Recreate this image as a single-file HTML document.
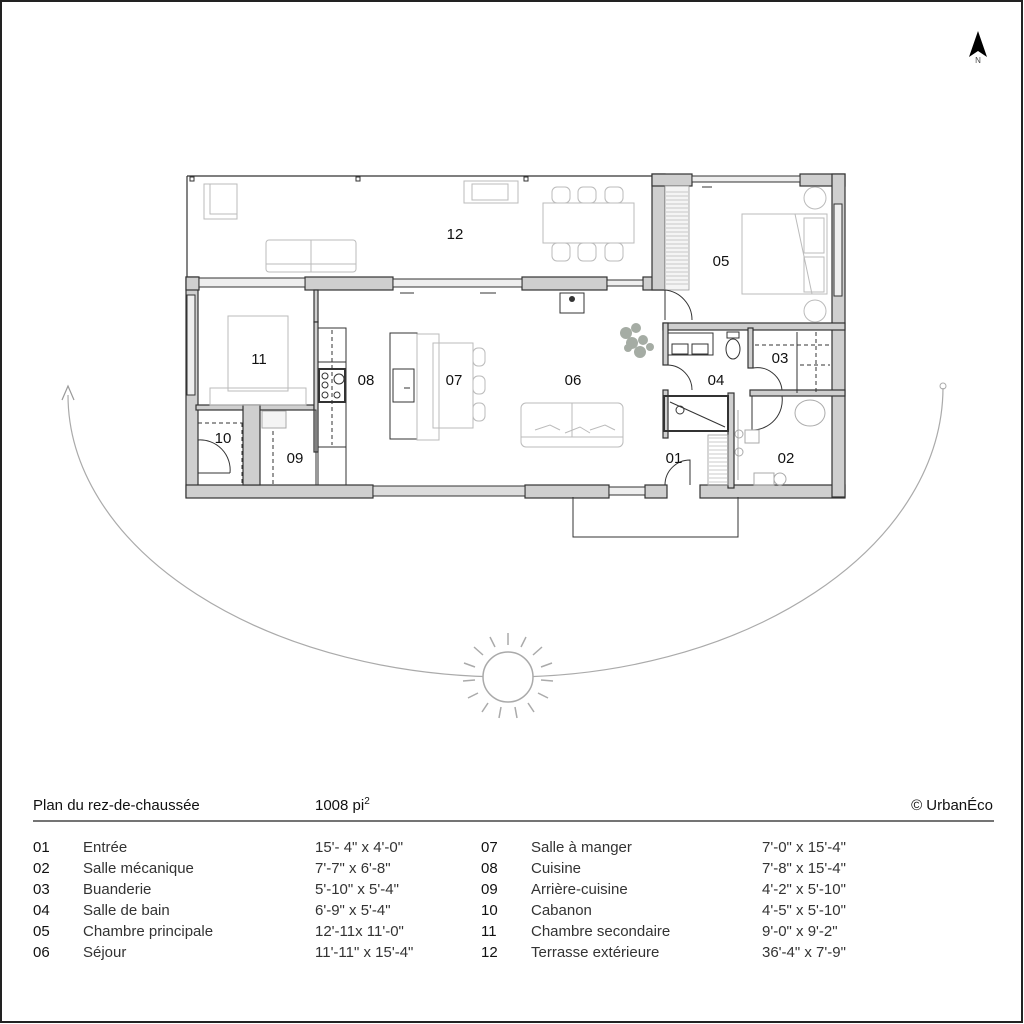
<!DOCTYPE html>
<html><head><meta charset="utf-8"><style>
html,body{margin:0;padding:0;background:#fff}
svg{display:block}
text{font-family:"Liberation Sans",sans-serif}
</style></head><body>
<svg width="1024" height="1024" viewBox="0 0 1024 1024" xmlns="http://www.w3.org/2000/svg">
<rect x="1" y="1" width="1021" height="1021" fill="#fff" stroke="#222" stroke-width="2"/>

<!-- compass -->
<path d="M978,31 L969,57 L978,51 L987,57 Z" fill="#000"/>
<text x="978" y="63" font-size="8" text-anchor="middle" fill="#444">N</text>

<!-- sun path -->
<path d="M68,395 A440 282 0 0 0 508,677 A435 290 0 0 0 943,388" fill="none" stroke="#aaa" stroke-width="1.2"/>
<path d="M62,400 L68,386 L74,400" fill="none" stroke="#999" stroke-width="1.2"/>
<circle cx="943" cy="386" r="3" fill="none" stroke="#aaa"/>
<g stroke="#aaa" stroke-width="1.5" fill="none">
<circle cx="508" cy="677" r="25" fill="#fff"/>
<line x1="508" y1="633" x2="508" y2="645"/><line x1="490" y1="637" x2="495" y2="647"/><line x1="526" y1="637" x2="521" y2="647"/>
<line x1="474" y1="647" x2="483" y2="655"/><line x1="542" y1="647" x2="533" y2="655"/>
<line x1="464" y1="663" x2="475" y2="667"/><line x1="552" y1="663" x2="541" y2="667"/>
<line x1="463" y1="681" x2="475" y2="680"/><line x1="553" y1="681" x2="541" y2="680"/>
<line x1="468" y1="698" x2="478" y2="693"/><line x1="548" y1="698" x2="538" y2="693"/>
<line x1="482" y1="712" x2="488" y2="703"/><line x1="534" y1="712" x2="528" y2="703"/>
<line x1="499" y1="718" x2="501" y2="707"/><line x1="517" y1="718" x2="515" y2="707"/>
</g>

<!-- terrace -->
<g fill="none" stroke="#333" stroke-width="1.2">
<line x1="187" y1="176" x2="652" y2="176"/>
<line x1="187" y1="176" x2="187" y2="277"/>
</g>
<g fill="#fff" stroke="#333" stroke-width="1">
<rect x="190" y="177" width="4" height="4"/><rect x="356" y="177" width="4" height="4"/><rect x="524" y="177" width="4" height="4"/>
</g>
<g fill="none" stroke="#bbb" stroke-width="1">
<rect x="204" y="184" width="33" height="35"/><rect x="210" y="184" width="27" height="30"/>
<rect x="266" y="240" width="90" height="32" rx="3"/><line x1="311" y1="240" x2="311" y2="272"/><line x1="266" y1="264" x2="356" y2="264"/>
<rect x="464" y="181" width="54" height="22"/><rect x="472" y="184" width="36" height="16"/>
<rect x="543" y="203" width="91" height="40"/>
<rect x="552" y="187" width="18" height="16" rx="5"/><rect x="578" y="187" width="18" height="16" rx="5"/><rect x="605" y="187" width="18" height="16" rx="5"/>
<rect x="552" y="243" width="18" height="18" rx="5"/><rect x="578" y="243" width="18" height="18" rx="5"/><rect x="605" y="243" width="18" height="18" rx="5"/>
</g>

<!-- walls -->
<g fill="#cfcfcf" stroke="#333" stroke-width="1.2">
<rect x="186" y="277" width="12" height="220"/>
<rect x="186" y="277" width="13" height="13"/>
<rect x="305" y="277" width="88" height="13"/>
<rect x="522" y="277" width="85" height="13"/>
<rect x="643" y="277" width="22" height="13"/>
<rect x="186" y="485" width="187" height="13"/>
<rect x="525" y="485" width="84" height="13"/>
<rect x="645" y="485" width="22" height="13"/>
<rect x="700" y="485" width="145" height="13"/>
<rect x="652" y="174" width="13" height="116"/>
<rect x="652" y="174" width="40" height="12"/>
<rect x="800" y="174" width="45" height="12"/>
<rect x="832" y="174" width="13" height="323"/>
<rect x="663" y="323" width="182" height="7"/>
<rect x="663" y="323" width="5" height="42"/>
<rect x="663" y="390" width="5" height="48"/>
<rect x="748" y="328" width="5" height="40"/>
<rect x="750" y="390" width="95" height="6"/>
<rect x="728" y="393" width="6" height="95"/>
<rect x="196" y="405" width="118" height="5"/>
<rect x="243" y="405" width="17" height="80"/>
<rect x="314" y="290" width="4" height="32"/>
<rect x="314" y="322" width="4" height="130"/>
</g>
<g fill="#eee" stroke="#333" stroke-width="1">
<rect x="199" y="278" width="106" height="9"/>
<rect x="393" y="279" width="129" height="8"/>
<rect x="607" y="280" width="36" height="6"/>
<rect x="373" y="486" width="152" height="10" fill="#ddd"/>
<rect x="609" y="487" width="36" height="8"/>
<rect x="187" y="295" width="8" height="100"/>
<rect x="834" y="204" width="8" height="92"/>
<rect x="692" y="176" width="108" height="6"/>
</g>
<line x1="400" y1="293" x2="414" y2="293" stroke="#333"/><line x1="480" y1="293" x2="496" y2="293" stroke="#333"/>
<line x1="702" y1="187" x2="712" y2="187" stroke="#333"/>

<g fill="#f4f4f4" stroke="#999" stroke-width="0.8">
<rect x="665" y="186" width="24" height="104"/>
</g>
<g stroke="#bbb" stroke-width="0.8">
<path d="M666,192H688M666,196H688M666,200H688M666,204H688M666,208H688M666,212H688M666,216H688M666,220H688M666,224H688M666,228H688M666,232H688M666,236H688M666,240H688M666,244H688M666,248H688M666,252H688M666,256H688M666,260H688M666,264H688M666,268H688M666,272H688M666,276H688M666,280H688M666,284H688"/>
<path d="M709,438H727M709,442H727M709,446H727M709,450H727M709,454H727M709,458H727M709,462H727M709,466H727M709,470H727M709,474H727M709,478H727M709,482H727"/>
</g>
<rect x="708" y="435" width="20" height="50" fill="none" stroke="#999" stroke-width="0.8"/>

<g fill="none" stroke="#bbb" stroke-width="1">
<rect x="742" y="214" width="85" height="80"/>
<rect x="804" y="218" width="20" height="35"/><rect x="804" y="257" width="20" height="35"/>
<line x1="795" y1="214" x2="812" y2="294"/>
<circle cx="815" cy="198" r="11"/><circle cx="815" cy="311" r="11"/>
</g>
<g fill="none" stroke="#333" stroke-width="1">
<path d="M665,290 A30 30 0 0 1 692,320"/><line x1="665" y1="290" x2="665" y2="320"/>
<path d="M668,365 A25 25 0 0 1 692,390"/>
<path d="M753,368 A25 25 0 0 1 782,390"/>
<path d="M752,396 L752,430 M752,430 A30 30 0 0 0 782,396"/>
<path d="M665,485 A25 25 0 0 1 690,460 L690,485"/>
<path d="M198,440 A30 30 0 0 1 230,473"/>
<line x1="198" y1="473" x2="230" y2="473"/>
</g>
<g fill="none" stroke="#333" stroke-width="1">
<rect x="668" y="333" width="45" height="22"/>
<path d="M672,344 h16 v10 h-16z M692,344 h16 v10 h-16z"/>
<rect x="727" y="332" width="12" height="6"/><ellipse cx="733" cy="349" rx="7" ry="10"/>
<rect x="664" y="396" width="64" height="35" stroke-width="2"/>
<line x1="670" y1="402" x2="725" y2="427"/><circle cx="680" cy="410" r="4"/>
</g>
<g fill="none" stroke="#333" stroke-width="1">
<line x1="797" y1="332" x2="797" y2="393"/>
<path d="M755,345 H830 M800,365 H830 M816,332 V393" stroke-dasharray="4 3"/>
</g>
<g fill="none" stroke="#aaa" stroke-width="1">
<ellipse cx="810" cy="413" rx="15" ry="13"/>
<line x1="738" y1="410" x2="738" y2="480"/>
<rect x="745" y="430" width="14" height="13"/><rect x="754" y="473" width="20" height="12"/><circle cx="780" cy="479" r="6"/>
<circle cx="739" cy="434" r="4"/><circle cx="739" cy="452" r="4"/>
</g>
<path d="M573,497 V537 H738 V497" fill="none" stroke="#333" stroke-width="1"/>

<g fill="none" stroke="#bbb" stroke-width="1">
<rect x="228" y="316" width="60" height="75"/>
<rect x="210" y="388" width="96" height="17"/>
</g>
<g fill="none" stroke="#333" stroke-width="1">
<rect x="198" y="410" width="45" height="75"/>
<rect x="260" y="410" width="56" height="75"/>
<path d="M198,423 H243 M242,423 V485 M273,410 V485" stroke-dasharray="4 3"/>
<rect x="262" y="411" width="24" height="17" fill="#f4f4f4" stroke="#aaa"/>
</g>
<g fill="none" stroke="#333" stroke-width="1">
<rect x="318" y="328" width="28" height="157"/>
<line x1="318" y1="362" x2="346" y2="362"/>
<rect x="319" y="369" width="26" height="33" fill="#fff" stroke-width="2"/>
<circle cx="325" cy="376" r="3"/><circle cx="325" cy="385" r="3"/><circle cx="339" cy="379" r="5"/>
<circle cx="325" cy="395" r="3"/><circle cx="337" cy="395" r="3"/>
<line x1="318" y1="447" x2="346" y2="447"/>
<line x1="332" y1="330" x2="332" y2="445" stroke-dasharray="4 3"/>
<rect x="390" y="333" width="27" height="106"/>
<rect x="393" y="369" width="21" height="33"/>
<line x1="404" y1="388" x2="410" y2="388"/>
</g>
<g fill="none" stroke="#bbb" stroke-width="1">
<rect x="417" y="334" width="22" height="106"/>
<rect x="433" y="343" width="40" height="85"/>
<rect x="473" y="348" width="12" height="18" rx="5"/><rect x="473" y="376" width="12" height="18" rx="5"/><rect x="473" y="403" width="12" height="18" rx="5"/>
<rect x="521" y="403" width="102" height="44" rx="5"/>
<line x1="572" y1="403" x2="572" y2="437"/><line x1="521" y1="437" x2="623" y2="437"/>
<path d="M535,430 l15,-5 l10,5 M565,433 l15,-6 l10,6 M590,430 l15,-5 l10,5"/>
</g>
<rect x="560" y="293" width="24" height="20" fill="#fff" stroke="#333"/>
<circle cx="572" cy="299" r="3" fill="#333"/>
<g fill="#a5aca4">
<circle cx="626" cy="333" r="6"/><circle cx="636" cy="328" r="5"/><circle cx="632" cy="343" r="6"/><circle cx="643" cy="340" r="5"/><circle cx="640" cy="352" r="6"/><circle cx="628" cy="348" r="4"/><circle cx="650" cy="347" r="4"/>
</g>

<g font-size="15" fill="#111" text-anchor="middle">
<text x="455" y="239">12</text>
<text x="721" y="266">05</text>
<text x="259" y="364">11</text>
<text x="366" y="385">08</text>
<text x="454" y="385">07</text>
<text x="573" y="385">06</text>
<text x="716" y="385">04</text>
<text x="780" y="363">03</text>
<text x="223" y="443">10</text>
<text x="295" y="463">09</text>
<text x="674" y="463">01</text>
<text x="786" y="463">02</text>
</g>

<g fill="#111" font-size="15">
<text x="33" y="810">Plan du rez-de-chaussée</text>
<text x="315" y="810">1008 pi<tspan font-size="10" dy="-6">2</tspan></text>
<text x="993" y="810" text-anchor="end">© UrbanÉco</text>
</g>
<line x1="33" y1="821" x2="994" y2="821" stroke="#222" stroke-width="1.2"/>
<g font-size="15" fill="#111">
<text x="33" y="852">01</text><text x="33" y="873">02</text><text x="33" y="894">03</text><text x="33" y="915">04</text><text x="33" y="936">05</text><text x="33" y="957">06</text>
<text x="481" y="852">07</text><text x="481" y="873">08</text><text x="481" y="894">09</text><text x="481" y="915">10</text><text x="481" y="936">11</text><text x="481" y="957">12</text>
</g>
<g font-size="15" fill="#333">
<text x="83" y="852">Entrée</text><text x="83" y="873">Salle mécanique</text><text x="83" y="894">Buanderie</text><text x="83" y="915">Salle de bain</text><text x="83" y="936">Chambre principale</text><text x="83" y="957">Séjour</text>
<text x="315" y="852">15'- 4" x 4'-0"</text><text x="315" y="873">7'-7" x 6'-8"</text><text x="315" y="894">5'-10" x 5'-4"</text><text x="315" y="915">6'-9" x 5'-4"</text><text x="315" y="936">12'-11x 11'-0"</text><text x="315" y="957">11'-11" x 15'-4"</text>
<text x="531" y="852">Salle à manger</text><text x="531" y="873">Cuisine</text><text x="531" y="894">Arrière-cuisine</text><text x="531" y="915">Cabanon</text><text x="531" y="936">Chambre secondaire</text><text x="531" y="957">Terrasse extérieure</text>
<text x="762" y="852">7'-0" x 15'-4"</text><text x="762" y="873">7'-8" x 15'-4"</text><text x="762" y="894">4'-2" x 5'-10"</text><text x="762" y="915">4'-5" x 5'-10"</text><text x="762" y="936">9'-0" x 9'-2"</text><text x="762" y="957">36'-4" x 7'-9"</text>
</g>
</svg>
</body></html>
